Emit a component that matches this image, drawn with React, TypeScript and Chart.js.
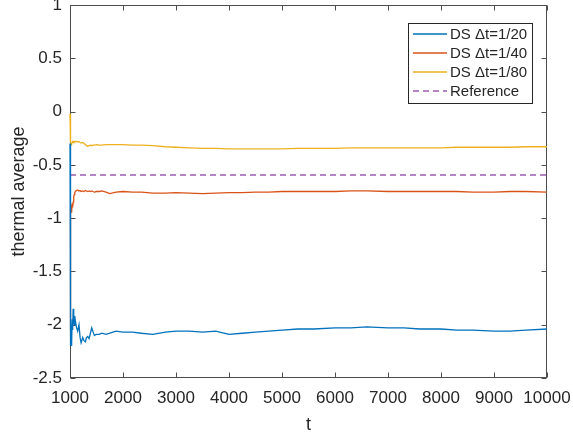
import React, { useEffect, useRef } from "react";
import { Chart, registerables } from "chart.js";

Chart.register(...registerables);

const tVals = [1000, 1005, 1010, 1015, 1020, 1030, 1040, 1050, 1060, 1070, 1080, 1090, 1100, 1120, 1145, 1170, 1190, 1210, 1240, 1265, 1290, 1310, 1335, 1360, 1385, 1410, 1430, 1460, 1500, 1550, 1600, 1680, 1750, 1870, 2000, 2180, 2350, 2560, 2800, 3000, 3250, 3500, 3750, 4000, 4250, 4500, 4750, 5000, 5300, 5600, 6000, 6300, 6600, 7000, 7300, 7600, 8000, 8300, 8600, 9000, 9300, 9600, 10000];

const ds20 = [-0.3, -2.2, -1.95, -2.15, -2.0, -2.2, -1.95, -2.05, -1.85, -1.9, -2.0, -1.92, -1.96, -2.02, -2.06, -2.0, -2.12, -2.17, -2.12, -2.15, -2.16, -2.12, -2.11, -2.13, -2.08, -2.03, -2.06, -2.1, -2.09, -2.09, -2.08, -2.09, -2.08, -2.06, -2.07, -2.07, -2.08, -2.09, -2.07, -2.06, -2.06, -2.07, -2.06, -2.09, -2.08, -2.07, -2.06, -2.05, -2.04, -2.04, -2.03, -2.03, -2.02, -2.03, -2.03, -2.04, -2.04, -2.05, -2.05, -2.06, -2.06, -2.05, -2.04];

const ds40 = [-2.05, -1.3, -1.05, -0.92, -0.88, -0.95, -0.86, -0.9, -0.85, -0.8, -0.78, -0.76, -0.75, -0.74, -0.735, -0.745, -0.74, -0.75, -0.745, -0.75, -0.74, -0.745, -0.75, -0.745, -0.75, -0.745, -0.75, -0.755, -0.75, -0.75, -0.745, -0.755, -0.77, -0.755, -0.75, -0.755, -0.755, -0.765, -0.765, -0.76, -0.765, -0.77, -0.765, -0.76, -0.76, -0.755, -0.755, -0.75, -0.75, -0.75, -0.75, -0.745, -0.745, -0.75, -0.75, -0.75, -0.75, -0.75, -0.755, -0.755, -0.75, -0.75, -0.755];

const ds80 = [-0.02, -0.2, -0.3, -0.32, -0.31, -0.3, -0.29, -0.285, -0.29, -0.28, -0.28, -0.285, -0.28, -0.28, -0.285, -0.28, -0.29, -0.295, -0.29, -0.3, -0.31, -0.32, -0.325, -0.32, -0.315, -0.32, -0.315, -0.315, -0.31, -0.315, -0.315, -0.31, -0.31, -0.31, -0.31, -0.315, -0.315, -0.32, -0.33, -0.335, -0.34, -0.345, -0.345, -0.35, -0.35, -0.35, -0.35, -0.35, -0.345, -0.345, -0.345, -0.34, -0.34, -0.34, -0.34, -0.34, -0.34, -0.335, -0.335, -0.335, -0.335, -0.33, -0.33];

const refT = [1000, 10000];
const refV = [-0.595, -0.595];

const xTickValues = [1000, 2000, 3000, 4000, 5000, 6000, 7000, 8000, 9000, 10000];
const yTickValues = [-2.5, -2, -1.5, -1, -0.5, 0, 0.5, 1];

const seriesLabels = ["DS \u0394t=1/20", "DS \u0394t=1/40", "DS \u0394t=1/80", "Reference"];
const seriesColors = ["#0072BD", "#D95319", "#EDB120", "#9A5BB0"];

const FONT = "'Liberation Sans', Arial, Helvetica, sans-serif";
const AXIS_COLOR = "#4d4d4d";
const TEXT_COLOR = "#262626";

const toPts = (xs: number[], ys: number[]) => xs.map((x, i) => ({ x, y: ys[i] }));

const boxPlugin = {
  id: "matlabBox",
  beforeDatasetsDraw(chart: any) {
    const { ctx, chartArea, scales } = chart;
    const { left, right, top, bottom } = chartArea;
    ctx.save();
    ctx.strokeStyle = AXIS_COLOR;
    ctx.lineWidth = 1;
    const L = Math.round(left) + 0.5;
    const R = Math.round(right) - 0.5;
    const T = Math.round(top) + 0.5;
    const B = Math.round(bottom) - 0.5;
    ctx.strokeRect(L, T, R - L, B - T);
    const tl = 5;
    ctx.beginPath();
    for (const v of xTickValues) {
      const px = Math.round(scales.x.getPixelForValue(v)) + 0.5;
      ctx.moveTo(px, B);
      ctx.lineTo(px, B - tl);
      ctx.moveTo(px, T);
      ctx.lineTo(px, T + tl);
    }
    for (const v of yTickValues) {
      const py = Math.round(scales.y.getPixelForValue(v)) + 0.5;
      ctx.moveTo(L, py);
      ctx.lineTo(L + tl, py);
      ctx.moveTo(R, py);
      ctx.lineTo(R - tl, py);
    }
    ctx.stroke();
    ctx.restore();
  },
  afterDraw(chart: any) {
    const { ctx } = chart;
    const bx = 408.5, by = 23.5, bw = 124, bh = 80;
    ctx.save();
    ctx.fillStyle = "#ffffff";
    ctx.fillRect(bx, by, bw, bh);
    ctx.strokeStyle = TEXT_COLOR;
    ctx.lineWidth = 1;
    ctx.strokeRect(bx, by, bw, bh);
    ctx.font = `15px ${FONT}`;
    ctx.textBaseline = "middle";
    ctx.textAlign = "left";
    seriesLabels.forEach((lab, i) => {
      const y = 34 + i * 19;
      ctx.strokeStyle = seriesColors[i];
      ctx.lineWidth = 1.3;
      ctx.setLineDash(i === 3 ? [6, 4] : []);
      ctx.beginPath();
      ctx.moveTo(413, y);
      ctx.lineTo(447, y);
      ctx.stroke();
      ctx.setLineDash([]);
      ctx.fillStyle = TEXT_COLOR;
      ctx.fillText(lab, 450, y + 1);
    });
    ctx.restore();
  },
};

export default function App() {
  const ref = useRef<HTMLCanvasElement | null>(null);

  useEffect(() => {
    if (!ref.current) return;
    const chart = new Chart(ref.current, {
      type: "line",
      data: {
        datasets: [
          { label: seriesLabels[0], data: toPts(tVals, ds20), borderColor: seriesColors[0], borderWidth: 1.3, clip: 3 },
          { label: seriesLabels[1], data: toPts(tVals, ds40), borderColor: seriesColors[1], borderWidth: 1.3, clip: 3 },
          { label: seriesLabels[2], data: toPts(tVals, ds80), borderColor: seriesColors[2], borderWidth: 1.3, clip: 3 },
          { label: seriesLabels[3], data: toPts(refT, refV), borderColor: seriesColors[3], borderWidth: 1.5, borderDash: [6, 4], clip: 3 },
        ] as any,
      },
      options: {
        animation: false,
        responsive: false,
        devicePixelRatio: 1,
        parsing: false as any,
        elements: { point: { radius: 0 }, line: { tension: 0 } },
        layout: { padding: { top: 5, right: 26, left: 0, bottom: 0 } },
        plugins: { legend: { display: false }, tooltip: { enabled: false } },
        scales: {
          x: {
            type: "linear",
            min: 1000,
            max: 10000,
            afterBuildTicks: (s: any) => { s.ticks = xTickValues.map((v) => ({ value: v })); },
            afterFit: (s: any) => { s.height = 56; s.paddingLeft = 0; s.paddingRight = 0; },
            grid: { display: false, drawTicks: false },
            border: { display: false },
            ticks: {
              padding: 10,
              color: TEXT_COLOR,
              font: { family: FONT, size: 17 },
              maxRotation: 0,
              autoSkip: false,
              callback: (v: any) => String(v),
            },
            title: {
              display: true,
              text: "t",
              color: TEXT_COLOR,
              font: { family: FONT, size: 18, lineHeight: 1 },
              padding: { top: 0, bottom: 0 },
            },
          },
          y: {
            type: "linear",
            min: -2.5,
            max: 1,
            afterBuildTicks: (s: any) => { s.ticks = yTickValues.map((v) => ({ value: v })); },
            afterFit: (s: any) => { s.width = 70; s.paddingTop = 0; s.paddingBottom = 0; },
            grid: { display: false, drawTicks: false },
            border: { display: false },
            ticks: {
              padding: 8,
              color: TEXT_COLOR,
              font: { family: FONT, size: 17 },
              autoSkip: false,
              callback: (v: any) => String(v),
            },
            title: {
              display: true,
              text: "thermal average",
              color: TEXT_COLOR,
              font: { family: FONT, size: 18, lineHeight: 1 },
              padding: { top: 10, bottom: 0 },
            },
          },
        },
      },
      plugins: [boxPlugin],
    });
    return () => chart.destroy();
  }, []);

  return (
    <div style={{ position: "absolute", left: 0, top: 0, width: 573, height: 434, background: "#fff" }}>
      <canvas ref={ref} width={573} height={434} style={{ display: "block" }} />
    </div>
  );
}
